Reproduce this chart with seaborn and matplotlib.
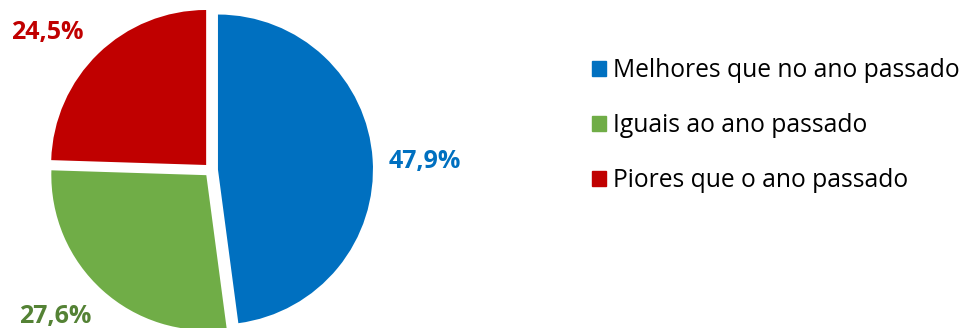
import matplotlib
matplotlib.use("Agg")
import matplotlib.pyplot as plt
import matplotlib.patches as mpatches
import seaborn as sns

categories = ["Melhores que no ano passado", "Iguais ao ano passado", "Piores que o ano passado"]
values = [47.9, 27.6, 24.5]
slice_colors = ["#0070C0", "#70AD47", "#C00000"]
label_colors = ["#0070C0", "#548235", "#C00000"]
# small pixel nudges of the percentage labels away from the slice mid-angle
label_nudges = [(0, -6), (-12, 13), (-14, -17)]

sns.set_theme(style="white")
plt.rcParams["font.family"] = ["Open Sans", "DejaVu Sans"]
plt.rcParams["text.color"] = "black"

W, H = 961, 328
fig = plt.figure(figsize=(W / 100, H / 100), dpi=100)

cx, cy, r = 211, 170, 155
half = 1.2 * r
ax = fig.add_axes([(cx - half) / W, (H - cy - half) / H, 2 * half / W, 2 * half / H])

wedges, _, autotexts = ax.pie(
    values,
    colors=slice_colors,
    startangle=90,
    counterclock=False,
    explode=[0.045] * len(values),
    radius=1.0,
    autopct=lambda p: f"{p:.1f}%".replace(".", ","),
    pctdistance=1.34,
    wedgeprops=dict(linewidth=0),
)
for t, c, (dx, dy) in zip(autotexts, label_colors, label_nudges):
    x, y = t.get_position()
    s = t.get_text()
    t.remove()
    ax.annotate(s, xy=(x, y), xytext=(dx, dy), textcoords="offset pixels",
                ha="center", va="center", color=c, fontsize=18,
                fontweight="bold", annotation_clip=False)
ax.set_xlim(-1.2, 1.2)
ax.set_ylim(-1.2, 1.2)
ax.axis("off")

handles = [mpatches.Patch(color=c, label=l) for c, l in zip(slice_colors, categories)]
leg = fig.legend(
    handles=handles,
    loc="upper left",
    bbox_to_anchor=(592 / W, 1 - 58 / H),
    frameon=False,
    fontsize=17.7,
    handlelength=0.55,
    handleheight=0.55,
    handletextpad=0.3,
    labelspacing=1.23,
    borderpad=0,
    borderaxespad=0,
)
for t in leg.get_texts():
    t.set_color("black")

fig.savefig("out.png", dpi=100)
